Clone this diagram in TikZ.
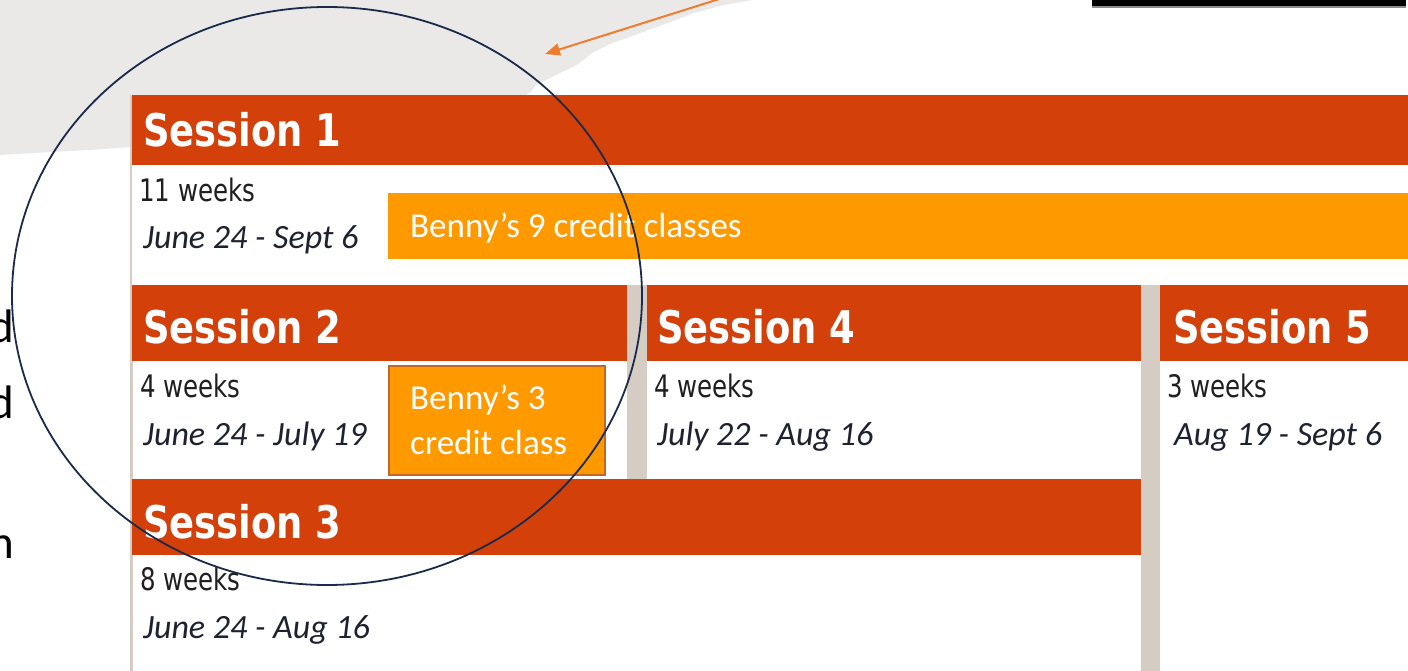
\documentclass[tikz,border=0pt]{standalone}
\usepackage{fontspec}
\setmainfont{Carlito}
\newfontfamily\hdrfont[FakeStretch=0.82]{DejaVu Sans}
\newfontfamily\wkfont[FakeStretch=0.79]{DejaVu Sans}
\usetikzlibrary{arrows.meta,shapes.geometric}
\definecolor{hdrred}{HTML}{D4400A}
\definecolor{bennyor}{HTML}{FF9900}
\definecolor{bennyedge}{HTML}{C0682A}
\definecolor{divgray}{HTML}{D5CCC4}
\definecolor{paper}{HTML}{EBE9E7}
\definecolor{navy}{HTML}{1B2A4A}
\definecolor{arrowor}{HTML}{ED7D31}
\definecolor{datecol}{HTML}{1E2230}
\tikzset{
  hdrtext/.style={inner sep=0pt, anchor=base west, text=white, font=\hdrfont\bfseries\fontsize{45}{45}\selectfont},
  wktext/.style={inner sep=0pt, anchor=base west, text=black!88, font=\wkfont\fontsize{31}{31}\selectfont},
  datetext/.style={inner sep=0pt, anchor=base west, text=datecol, font=\itshape\fontsize{34}{34}\selectfont},
  bennytext/.style={inner sep=0pt, anchor=base west, text=white, font=\fontsize{35}{35}\selectfont},
  fragtext/.style={inner sep=0pt, anchor=base east, text=black, font=\fontsize{47}{47}\selectfont},
}
\begin{document}
\begin{tikzpicture}[x=1pt,y=-1pt]
\useasboundingbox (0,0) rectangle (1408,671);
\clip (0,0) rectangle (1408,671);
% torn paper background
\fill[paper] (0,0) -- (752,0) -- (724,5) -- (694,13) -- (668,23) -- (648,30) -- (630,37) -- (612,43) -- (592,53) -- (577,65) -- (556,75) -- (536,85) -- (531,92) -- (500,110) -- (300,130) -- (132,147) -- (90,150) -- (51,152) -- (0,155) -- cycle;
% black bar top right
\fill[black!45] (1092,0) rectangle (1406,8.5);
\fill[black] (1092,0) rectangle (1406,6.5);
% left border strip
\fill[divgray] (129.5,95) rectangle (132.5,671);
% white body areas
\fill[white] (132,165) rectangle (1408,285);
% session 1
\fill[hdrred] (132,95) rectangle (1408,165);
% dividers
\fill[divgray] (627,285) rectangle (647,479);
\fill[divgray] (1141,285) rectangle (1160,671);
% session headers
\fill[hdrred] (132,285) rectangle (627,361);
\fill[hdrred] (647,285) rectangle (1141,361);
\fill[hdrred] (1160,285) rectangle (1408,361);
\fill[hdrred] (132,479) rectangle (1141,555);
% Benny bars
\fill[bennyor] (388,193) rectangle (1408,259);
\filldraw[fill=bennyor, draw=bennyedge, line width=1.6pt] (388.8,365.8) rectangle (605.2,475.2);
% texts
\node[hdrtext] (s1) at (143,147) {Session 1};
\node[hdrtext] (s2) at (143,343) {Session 2};
\node[hdrtext] (s4) at (657,343) {Session 4};
\node[hdrtext] (s5) at (1173,343) {Session 5};
\node[hdrtext] (s3) at (143,538) {Session 3};
\node[wktext] (w1) at (139,202) {11 weeks};
\node[wktext] (w2) at (140,397) {4 weeks};
\node[wktext] (w4) at (654,397) {4 weeks};
\node[wktext] (w5) at (1167,397) {3 weeks};
\node[wktext] (w3) at (140,590) {8 weeks};
\node[datetext] (d1) at (143,248) {June 24 - Sept 6};
\node[datetext] (d2) at (143,445) {June 24 - July 19};
\node[datetext] (d4) at (657,445) {July 22 - Aug 16};
\node[datetext] (d5) at (1174,445) {Aug 19 - Sept 6};
\node[datetext] (d3) at (143,638) {June 24 - Aug 16};
\node[bennytext] (b9) at (410,237) {Benny’s 9 credit classes};
\node[bennytext] (b3a) at (410,409) {Benny’s 3};
\node[bennytext] (b3b) at (410,454) {credit class};
% cropped text fragments at left edge
\node[fragtext] (f1) at (14,342) {d};
\node[fragtext] (f2) at (14,418) {d};
\node[fragtext] (f3) at (14,558) {n};
% ellipse
\node[draw=navy, line width=1.8pt, ellipse, minimum width=630pt, minimum height=578pt, inner sep=0pt] (circ) at (327,296) {};
% arrow
\coordinate (astart) at (732,-5);
\coordinate (atip) at (545,54);
\draw[arrowor, line width=2pt, -{Triangle[length=15pt,width=12pt]}] (astart) -- (atip);
\end{tikzpicture}
\end{document}
